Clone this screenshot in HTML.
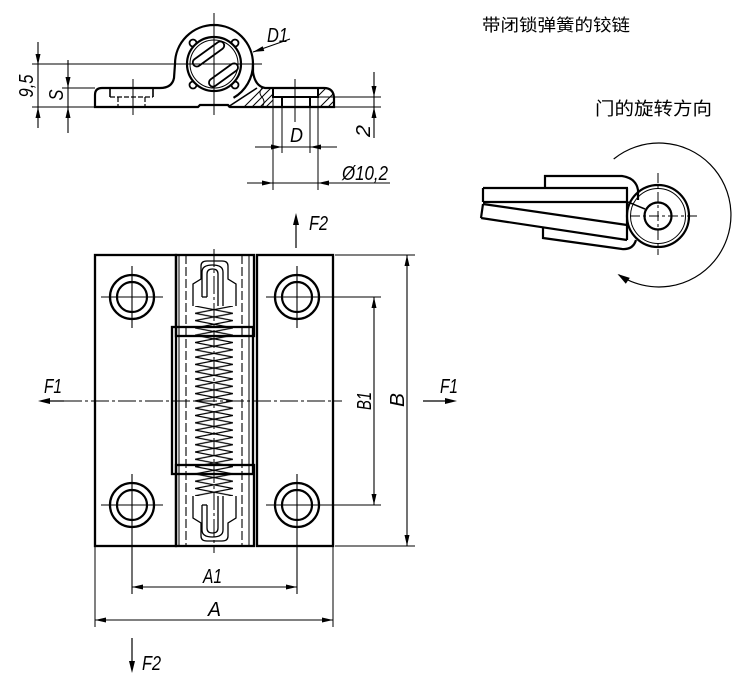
<!DOCTYPE html>
<html><head><meta charset="utf-8"><style>
html,body{margin:0;padding:0;background:#fff;}
svg{display:block;}
text{font-family:"Liberation Sans","Noto Sans CJK SC",sans-serif;fill:#000;}
.d{font-style:italic;font-size:20px;}
.cn{font-family:"Liberation Sans","Noto Sans CJK SC",sans-serif;}
</style></head><body>
<svg width="750" height="679" viewBox="0 0 750 679" xmlns="http://www.w3.org/2000/svg">
<defs>
<pattern id="coil" x="195" y="306" width="38" height="14.6" patternUnits="userSpaceOnUse">
<path d="M0,0 L38,7.3 L0,14.6 M38,0 L0,7.3 L38,14.6" fill="none" stroke="#000" stroke-width="1.2"/>
</pattern>
</defs>
<rect width="750" height="679" fill="#fff"/>

<!-- ============ SIDE VIEW (top-left) ============ -->
<g fill="none" stroke="#000">
<path d="M95,100 L95,95 Q95,88 102,88 L160,88 Q172,88 174,78 L175,64 A39,39 0 0 1 253,64 L253,72 Q255,86 265,88 L324,88 Q333,88 334,97 L334,107 L230,107 L228,105 L200,105 L198,107 L95,107 Z" stroke-width="2.2"/>
<path d="M253,64 A39,39 0 0 1 233.5,97.8" stroke-width="2.2"/>
<path d="M228,107 L257,88" stroke-width="1.6"/>
<path d="M244,107 L263,88 M252,107 L271,88 M260,107 L273,94 M266,107 L273,100 M318,96 L326,88 M320,107 L334,93 M328,107 L334,101" stroke-width="1"/>
<path d="M262,88 Q258,93 262,97 Q266,102 262,107" stroke-width="0.9"/>
<path d="M273,88 L273,97 L318,97 L318,88 M282,97 L282,107 M310,97 L310,107" stroke-width="2"/>
<path d="M110,88 L110,97 M153,88 L153,97" stroke-width="1.6"/>
<path d="M110,97 L153,97 M118,97 L118,107 M145,97 L145,107" stroke-width="1.2" stroke-dasharray="5,2"/>
<circle cx="235" cy="43" r="3.5" stroke-width="1.8" fill="#fff"/>
<circle cx="193" cy="43" r="3.5" stroke-width="1.8" fill="#fff"/>
<circle cx="193" cy="85" r="3.5" stroke-width="1.8" fill="#fff"/>
<circle cx="235" cy="85" r="3.5" stroke-width="1.8" fill="#fff"/>
<circle cx="214" cy="64" r="27" stroke-width="2.2" fill="#fff"/>
<circle cx="214" cy="64" r="24" stroke-width="1"/>
<rect x="190" y="50" width="37" height="8" rx="4" transform="rotate(-36 208.5 54)" stroke-width="1.8"/>
<rect x="206.5" y="71" width="34" height="8" rx="4" transform="rotate(-36 223.5 75)" stroke-width="1.8"/>
<path d="M214,13 L214,115 M32,64 L262,64 M133,79 L133,115 M295,79 L295,122" stroke-width="1"/>
<path d="M62,88 L95,88 M32,107 L95,107 M318,97 L381,97 M334,107 L381,107 M282,97 L282,153 M310,97 L310,153 M273,97 L273,190 M318,97 L318,190" stroke-width="1"/>
<path d="M38,42 L38,128 M68,60 L68,133 M374,72 L374,138 M255,147 L337,147 M247,183 L390,183 M253,52 L290,39" stroke-width="1.1"/>
</g>
<g fill="#000">
<polygon points="38,65 35.5,54 40.5,54"/>
<polygon points="38,107 35.5,118 40.5,118"/>
<polygon points="68,88 65.5,77 70.5,77"/>
<polygon points="68,107 65.5,118 70.5,118"/>
<polygon points="374,97 371.5,86 376.5,86"/>
<polygon points="374,107 371.5,118 376.5,118"/>
<polygon points="282,147 271,144.5 271,149.5"/>
<polygon points="310,147 321,144.5 321,149.5"/>
<polygon points="273,183 262,180.5 262,185.5"/>
<polygon points="318,183 329,180.5 329,185.5"/>
<polygon points="253,52 264.3,51 262.7,46.2"/>
</g>
<text class="d" transform="translate(33,86) rotate(-90)" text-anchor="middle" textLength="23" lengthAdjust="spacingAndGlyphs">9,5</text>
<text class="d" transform="translate(63,95) rotate(-90)" text-anchor="middle" textLength="11" lengthAdjust="spacingAndGlyphs">S</text>
<text class="d" transform="translate(370,131) rotate(-90)" text-anchor="middle" textLength="12" lengthAdjust="spacingAndGlyphs">2</text>
<text class="d" x="267" y="42" textLength="21" lengthAdjust="spacingAndGlyphs">D1</text>
<text class="d" x="290" y="142" textLength="13" lengthAdjust="spacingAndGlyphs">D</text>
<text class="d" x="342" y="180" textLength="46" lengthAdjust="spacingAndGlyphs">Ø10,2</text>

<!-- ============ TITLES ============ -->
<text class="cn" x="482" y="31" font-size="17" textLength="148" lengthAdjust="spacingAndGlyphs">带闭锁弹簧的铰链</text>
<text class="cn" x="595" y="115" font-size="18" textLength="117" lengthAdjust="spacingAndGlyphs">门的旋转方向</text>

<!-- ============ ROTATION DIAGRAM ============ -->
<g fill="none" stroke="#000">
<circle cx="658" cy="216" r="31" stroke-width="2.2"/>
<circle cx="658" cy="216" r="27.5" stroke-width="1"/>
<circle cx="658" cy="216" r="13.5" stroke-width="2.2"/>
<path d="M483,188 L628,188 M483,202 L628,202 M483,188 L483,202" stroke-width="2.2"/>
<path d="M545,188 L545,176 L622,176 Q636,178 638,190 L638,200" stroke-width="2.2"/>
<path d="M483,204 L627,225 M481,218 L627,240 M483,204 L481,218 M627,188 L627,240" stroke-width="2.2"/>
<path d="M543,228 L543,238 L622,249 Q633,250 636,240" stroke-width="2.2"/>
<path d="M628,202 L645,209" stroke-width="1.5"/>
<path d="M630,216 L698,216 M658,173 L658,255" stroke-width="1" stroke-dasharray="10,3,3,3"/>
<path d="M613.7,159 A72,72 0 1 1 618.7,274.7" stroke-width="1.2"/>
</g>
<polygon points="617.5,274 629.8,277.9 625.8,283.7" fill="#000"/>

<!-- ============ MAIN FRONT VIEW ============ -->
<g fill="none" stroke="#000">
<rect x="95" y="255" width="81" height="291" stroke-width="2.3"/>
<rect x="257" y="255" width="76" height="291" stroke-width="2.3"/>
<rect x="176" y="255" width="78" height="81" stroke-width="2.3"/>
<rect x="172" y="327" width="81" height="147" stroke-width="2.3"/>
<rect x="176" y="465" width="78" height="81" stroke-width="2.3"/>
<path d="M179,255 L179,546 M249,255 L249,546" stroke-width="1"/>
<path d="M186,255 L186,546 M242,255 L242,546" stroke-width="1.1" stroke-dasharray="9,3"/>
</g>
<rect x="195" y="306" width="38" height="190" fill="url(#coil)"/>
<g fill="none" stroke="#000" stroke-width="1.3">
<path d="M193,306 L193,284 L201,279 L201,266 Q201,261 207,261 L222,261 Q228,261 228,266 L228,279 L236,284 L236,306"/>
<path d="M202,297 L202,272 Q202,265 212.5,265 Q223,265 223,272 L223,306"/>
<path d="M207,297 L207,274 Q207,269 212.5,269 Q218,269 218,274 L218,306"/>
<path d="M202,297 L207,297"/>
</g>
<g transform="translate(0,802) scale(1,-1)" fill="none" stroke="#000" stroke-width="1.3">
<path d="M193,306 L193,284 L201,279 L201,266 Q201,261 207,261 L222,261 Q228,261 228,266 L228,279 L236,284 L236,306"/>
<path d="M202,297 L202,272 Q202,265 212.5,265 Q223,265 223,272 L223,306"/>
<path d="M207,297 L207,274 Q207,269 212.5,269 Q218,269 218,274 L218,306"/>
<path d="M202,297 L207,297"/>
</g>
<g fill="none" stroke="#000">
<circle cx="132" cy="297" r="22" stroke-width="2.3"/><circle cx="132" cy="297" r="15" stroke-width="2.2"/>
<circle cx="297" cy="297" r="22" stroke-width="2.3"/><circle cx="297" cy="297" r="15" stroke-width="2.2"/>
<circle cx="132" cy="505" r="22" stroke-width="2.3"/><circle cx="132" cy="505" r="15" stroke-width="2.2"/>
<circle cx="297" cy="505" r="22" stroke-width="2.3"/><circle cx="297" cy="505" r="15" stroke-width="2.2"/>
<path d="M101,297 L163,297 M132,266 L132,328 M266,297 L381,297 M297,266 L297,328 M101,505 L163,505 M132,474 L132,594 M266,505 L381,505 M297,474 L297,594" stroke-width="1.1"/>
<path d="M214,249 L214,553" stroke-width="1" stroke-dasharray="18,3,3,3"/>
<path d="M64,401 L342,401" stroke-width="1" stroke-dasharray="18,3,3,3"/>
<path d="M335,255 L415,255 M335,546 L415,546 M95,546 L95,627 M333,546 L333,627" stroke-width="1"/>
<path d="M407,255 L407,546 M374,297 L374,505 M132,587 L297,587 M95,620 L333,620" stroke-width="1.1"/>
<path d="M49,401 L64,401 M423,401 L446,401 M296,225 L296,248 M132,638 L132,661" stroke-width="1.2"/>
</g>
<g fill="#000">
<polygon points="407,255 404.5,266 409.5,266"/>
<polygon points="407,546 404.5,535 409.5,535"/>
<polygon points="374,297 371.5,308 376.5,308"/>
<polygon points="374,505 371.5,494 376.5,494"/>
<polygon points="132,587 143,584.5 143,589.5"/>
<polygon points="297,587 286,584.5 286,589.5"/>
<polygon points="95,620 106,617.5 106,622.5"/>
<polygon points="333,620 322,617.5 322,622.5"/>
<polygon points="38,401 50,398 50,404"/>
<polygon points="457,401 445,398 445,404"/>
<polygon points="296,213 293,225 299,225"/>
<polygon points="132,673 129,661 135,661"/>
</g>
<text class="d" x="44" y="393" textLength="18" lengthAdjust="spacingAndGlyphs">F1</text>
<text class="d" x="440" y="393" textLength="18" lengthAdjust="spacingAndGlyphs">F1</text>
<text class="d" x="309" y="230" textLength="19" lengthAdjust="spacingAndGlyphs">F2</text>
<text class="d" x="142" y="670" textLength="19" lengthAdjust="spacingAndGlyphs">F2</text>
<text class="d" x="203" y="583" textLength="19" lengthAdjust="spacingAndGlyphs">A1</text>
<text class="d" x="208" y="616" textLength="13" lengthAdjust="spacingAndGlyphs">A</text>
<text class="d" transform="translate(371,401) rotate(-90)" text-anchor="middle" textLength="18" lengthAdjust="spacingAndGlyphs">B1</text>
<text class="d" transform="translate(404,400) rotate(-90)" text-anchor="middle" textLength="14" lengthAdjust="spacingAndGlyphs">B</text>
</svg>
</body></html>
